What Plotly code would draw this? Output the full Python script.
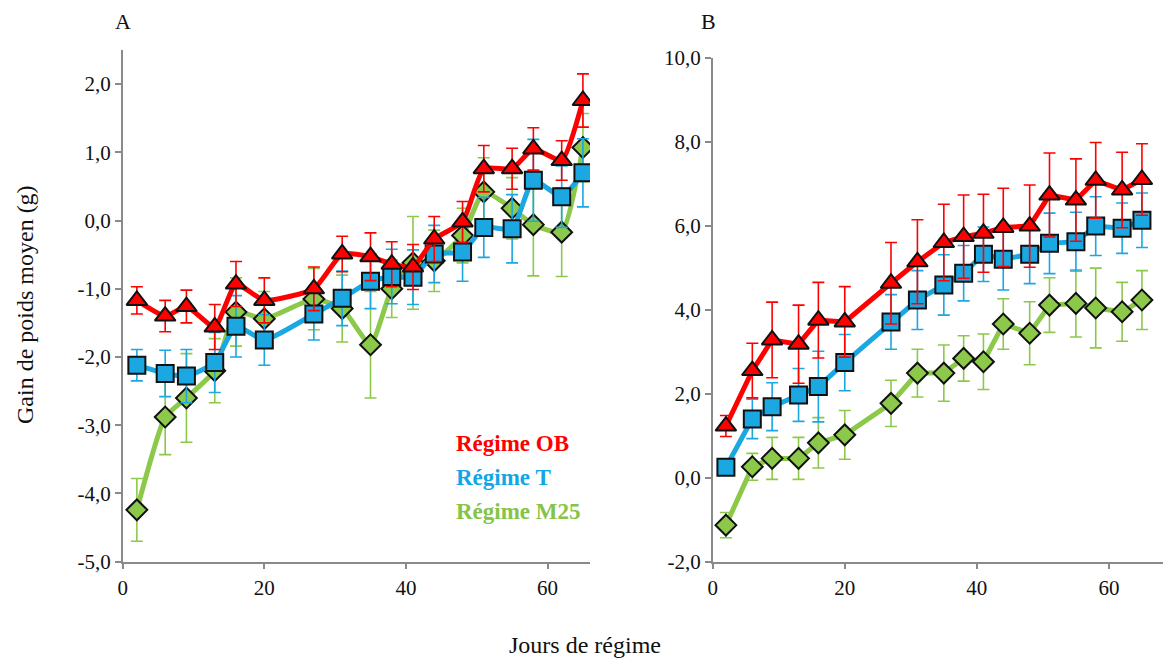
import plotly.graph_objects as go

# ── Data ──────────────────────────────────────────────────────────────────────
days = [2, 6, 9, 13, 16, 20, 27, 31, 35, 38, 41, 44, 48, 51, 55, 58, 62, 65]

# Panel A
ob_a  = [-1.17, -1.40, -1.26, -1.56, -0.93, -1.17, -1.00, -0.49, -0.53, -0.64,
         -0.68, -0.27, -0.02, 0.76, 0.76, 1.05, 0.88, 1.76]
ob_a_err  = [0.20, 0.23, 0.24, 0.33, 0.33, 0.33, 0.32, 0.26, 0.35, 0.33,
             0.33, 0.33, 0.30, 0.34, 0.30, 0.31, 0.29, 0.39]
t_a   = [-2.12, -2.24, -2.28, -2.08, -1.55, -1.75, -1.37, -1.14, -0.89, -0.82,
         -0.83, -0.49, -0.46, -0.10, -0.12, 0.59, 0.35, 0.70]
t_a_err   = [0.23, 0.34, 0.39, 0.44, 0.45, 0.37, 0.38, 0.40, 0.40, 0.40,
             0.40, 0.42, 0.43, 0.44, 0.50, 0.60, 0.45, 0.50]
m25_a = [-4.24, -2.88, -2.60, -2.20, -1.34, -1.44, -1.15, -1.29, -1.82, -1.00,
         -0.62, -0.59, -0.22, 0.42, 0.18, -0.06, -0.17, 1.07]
m25_a_err = [0.46, 0.55, 0.65, 0.47, 0.50, 0.40, 0.45, 0.49, 0.78, 0.42,
             0.68, 0.45, 0.40, 0.50, 0.45, 0.75, 0.65, 0.50]

# Panel B
ob_b  = [1.23, 2.55, 3.28, 3.18, 3.75, 3.71, 4.63, 5.14, 5.60, 5.74,
         5.82, 5.96, 5.99, 6.73, 6.61, 7.08, 6.85, 7.10]
ob_b_err  = [0.25, 0.65, 0.90, 0.93, 0.90, 0.84, 0.97, 1.00, 0.91, 0.99,
             0.93, 0.93, 0.98, 1.00, 0.98, 0.90, 0.90, 0.85]
t_b   = [0.25, 1.40, 1.69, 1.97, 2.17, 2.74, 3.71, 4.23, 4.59, 4.87,
         5.32, 5.20, 5.32, 5.58, 5.62, 5.99, 5.94, 6.13]
t_b_err   = [0.15, 0.47, 0.57, 0.63, 0.84, 0.67, 0.65, 0.70, 0.72, 0.66,
             0.65, 0.73, 0.70, 0.72, 0.70, 0.70, 0.60, 0.65]
m25_b = [-1.13, 0.26, 0.46, 0.46, 0.83, 1.02, 1.77, 2.49, 2.49, 2.84,
         2.76, 3.66, 3.44, 4.11, 4.15, 4.04, 3.95, 4.23]
m25_b_err = [0.30, 0.32, 0.50, 0.50, 0.60, 0.58, 0.55, 0.57, 0.67, 0.54,
             0.66, 0.60, 0.75, 0.65, 0.80, 0.95, 0.70, 0.70]

ya_ticks = [-5, -4, -3, -2, -1, 0, 1, 2]
ya_text  = ["-5,0", "-4,0", "-3,0", "-2,0", "-1,0", "0,0", "1,0", "2,0"]
yb_ticks = [-2, 0, 2, 4, 6, 8, 10]
yb_text  = ["-2,0", "0,0", "2,0", "4,0", "6,0", "8,0", "10,0"]
x_ticks  = [0, 20, 40, 60]

# ── Styles ────────────────────────────────────────────────────────────────────
RED, BLUE, GREEN = "#ff0000", "#1aa7e2", "#8cc94b"
W, H = 1171, 661
OFF = 8                       # page body margin, figure is drawn at (8, 8)
FW, FH = W - OFF, H - OFF
SERIF = "Times New Roman, Liberation Serif, Times, serif"

series = [
    # name, colour, marker symbol, size
    ("Régime M25", GREEN, "diamond", 16),
    ("Régime T", BLUE, "square", 17),
    ("Régime OB", RED, "triangle-up", 18),
]
panel_a = {"Régime M25": (m25_a, m25_a_err), "Régime T": (t_a, t_a_err),
           "Régime OB": (ob_a, ob_a_err)}
panel_b = {"Régime M25": (m25_b, m25_b_err), "Régime T": (t_b, t_b_err),
           "Régime OB": (ob_b, ob_b_err)}

fig = go.Figure()
for panel, xa, ya, shape in [(panel_a, "x", "y", "spline"), (panel_b, "x2", "y2", "linear")]:
    for name, col, sym, size in series:
        vals, err = panel[name]
        fig.add_trace(go.Scatter(
            x=days, y=vals, xaxis=xa, yaxis=ya, name=name, showlegend=False,
            mode="lines+markers",
            line=dict(color=col, width=5, shape=shape, smoothing=0.5),
            marker=dict(symbol=sym, size=size, color=col,
                        line=dict(color="#111111", width=2)),
            error_y=dict(type="data", array=err, visible=True, color=col,
                         thickness=1.6, width=6),
        ))

# ── Layout ────────────────────────────────────────────────────────────────────
def px_x(p): return (p - OFF) / FW
def px_y(p): return 1 - (p - OFF) / FH

axis_common = dict(showline=True, linecolor="#8a8a8a", linewidth=1.5,
                   ticks="outside", ticklen=6, tickcolor="#8a8a8a", tickwidth=1.5,
                   showgrid=False, zeroline=False, automargin=False,
                   tickfont=dict(family=SERIF, size=21, color="#111111"))

fig.update_layout(
    template="none",
    width=FW, height=FH,
    paper_bgcolor="white", plot_bgcolor="white",
    margin=dict(l=0, r=0, t=0, b=0, pad=0, autoexpand=False),
    font=dict(family=SERIF),
    xaxis=dict(domain=[px_x(122.7), px_x(590)], range=[0, 66], tickvals=x_ticks,
               anchor="y", **axis_common),
    yaxis=dict(domain=[px_y(561.7), px_y(50)], range=[-5, 2.5], tickvals=ya_ticks,
               ticktext=ya_text, anchor="x", **axis_common),
    xaxis2=dict(domain=[px_x(712.7), 1.0], range=[0, 69.4], tickvals=x_ticks,
                anchor="y2", **axis_common),
    yaxis2=dict(domain=[px_y(561.7), px_y(57.7)], range=[-2, 10], tickvals=yb_ticks,
                ticktext=yb_text, anchor="x2", **axis_common),
)

def label(text, x, y, size=22, color="#111111", bold=False, angle=0, xanchor="center"):
    fig.add_annotation(
        text=f"<b>{text}</b>" if bold else text, x=px_x(x), y=px_y(y),
        xref="paper", yref="paper", showarrow=False, textangle=angle,
        xanchor=xanchor, yanchor="middle",
        font=dict(family=SERIF, size=size, color=color),
    )

label("A", 123, 22, size=22)
label("B", 708, 22, size=22)
label("Gain de poids moyen (g)", 25, 305, size=24, angle=-90)
label("Jours de régime", 585, 645, size=24)
label("Régime OB", 454, 443, size=23, color=RED, bold=True, xanchor="left")
label("Régime T", 454, 477, size=23, color="#12a6e6", bold=True, xanchor="left")
label("Régime M25", 454, 511, size=23, color="#84c447", bold=True, xanchor="left")

fig.write_html("out.html")
